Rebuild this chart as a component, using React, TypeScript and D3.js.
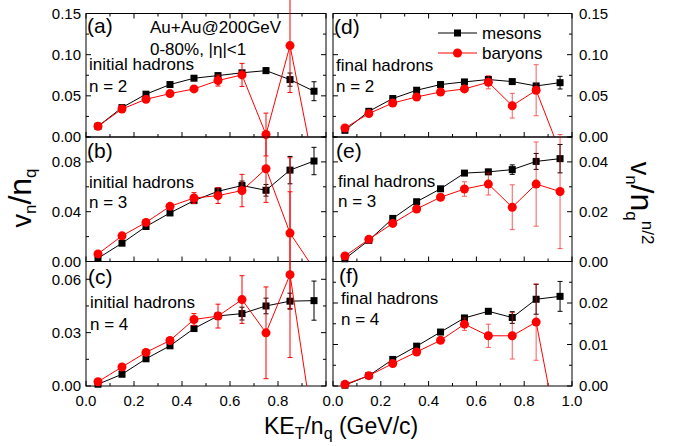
import React from "react";
import * as d3 from "d3";

// Kinetic energy per constituent quark, KE_T/n_q (GeV/c)
const keT = [0.05, 0.15, 0.25, 0.35, 0.45, 0.55, 0.65, 0.75, 0.85, 0.95];

// (a) initial hadrons, n = 2
const mesonsInitN2 = [0.013, 0.0357, 0.052, 0.0637, 0.0714, 0.0746, 0.078, 0.0806, 0.0697, 0.0556];
const mesonsInitN2Err = [0, 0, 0, 0, 0, 0.001, 0.002, 0.0034, 0.008, 0.0115];
const baryonsInitN2 = [0.013, 0.034, 0.0458, 0.0527, 0.0584, 0.0686, 0.0754, 0.003, 0.111, -0.037];
const baryonsInitN2Err = [0, 0, 0, 0, 0, 0.0067, 0.014, 0.026, 0.057, 0];

// (b) initial hadrons, n = 3
const mesonsInitN3 = [0.0026, 0.0147, 0.0281, 0.039, 0.0489, 0.0564, 0.061, 0.0572, 0.0734, 0.0807];
const mesonsInitN3Err = [0, 0, 0, 0, 0.001, 0.0027, 0.0036, 0.0047, 0.011, 0.011];
const baryonsInitN3 = [0.0061, 0.0206, 0.0314, 0.0443, 0.051, 0.0529, 0.057, 0.0745, 0.0228, -0.006];
const baryonsInitN3Err = [0, 0, 0, 0, 0.0043, 0.0063, 0.013, 0.027, 0.0605, 0];

// (c) initial hadrons, n = 4
const mesonsInitN4 = [0.001, 0.0066, 0.0153, 0.0226, 0.0323, 0.0394, 0.0407, 0.045, 0.0477, 0.048];
const mesonsInitN4Err = [0, 0, 0, 0, 0, 0.001, 0.0036, 0.0044, 0.0045, 0.011];
const baryonsInitN4 = [0.0024, 0.0107, 0.0189, 0.0256, 0.0374, 0.0393, 0.0486, 0.0299, 0.0626, -0.027];
const baryonsInitN4Err = [0, 0, 0, 0, 0.0033, 0.0067, 0.0134, 0.0258, 0.0466, 0];

// (d) final hadrons, n = 2
const mesonsFinalN2 = [0.0081, 0.0312, 0.0467, 0.0568, 0.0637, 0.0669, 0.0698, 0.0673, 0.062, 0.066];
const mesonsFinalN2Err = [0, 0, 0, 0, 0, 0, 0.002, 0.002, 0.003, 0.0077];
const baryonsFinalN2 = [0.011, 0.0284, 0.0413, 0.0486, 0.0547, 0.0584, 0.0665, 0.038, 0.0568, -0.018];
const baryonsFinalN2Err = [0, 0, 0, 0, 0, 0, 0.008, 0.015, 0.031, 0];

// (e) final hadrons, n = 3
const mesonsFinalN3 = [0.0011, 0.0085, 0.0173, 0.024, 0.0292, 0.0355, 0.036, 0.0369, 0.0402, 0.0413];
const mesonsFinalN3Err = [0, 0, 0, 0, 0, 0, 0.001, 0.0019, 0.0032, 0.0057];
const baryonsFinalN3 = [0.0022, 0.0089, 0.0153, 0.0211, 0.0258, 0.0291, 0.0311, 0.0218, 0.0311, 0.0281];
const baryonsFinalN3Err = [0, 0, 0, 0, 0, 0.0029, 0.0044, 0.009, 0.0169, 0.0229];

// (f) final hadrons, n = 4
const mesonsFinalN4 = [0.0002, 0.0025, 0.0064, 0.0096, 0.013, 0.0164, 0.018, 0.0165, 0.0209, 0.0216];
const mesonsFinalN4Err = [0, 0, 0, 0, 0, 0, 0.0006, 0.0014, 0.0036, 0.0036];
const baryonsFinalN4 = [0.0004, 0.0025, 0.0054, 0.0082, 0.011, 0.0149, 0.0121, 0.0121, 0.0154, -0.0146];
const baryonsFinalN4Err = [0, 0, 0, 0, 0, 0.0015, 0.0028, 0.0056, 0.0092, 0];

// Axis ticks
const xMajorTicks = [0, 0.2, 0.4, 0.6, 0.8, 1.0];
const xMinorTicks = [0.1, 0.3, 0.5, 0.7, 0.9];
const xTickLabelsLeft = ["0.0", "0.2", "0.4", "0.6", "0.8"];
const xTickLabelsRight = ["0.0", "0.2", "0.4", "0.6", "0.8", "1.0"];

const FONT = "'Liberation Sans', Arial, Helvetica, sans-serif";
const RED = "#ff0000";

const colRange: [number, number][] = [
  [86, 326],
  [333, 572],
];
const rowRange: [number, number][] = [
  [13.5, 137],
  [137, 261.5],
  [261.5, 386],
];

type PanelSpec = {
  id: string;
  col: number;
  row: number;
  yMax: number;
  major: number;
  minor: number;
  mesons: number[];
  mesonsErr: number[];
  baryons: number[];
  baryonsErr: number[];
  label: string;
  kind: string;
  n: number;
  textX: number;
  labelY: number;
  kindY: number;
  nY: number;
};

const panels: PanelSpec[] = [
  { id: "a", col: 0, row: 0, yMax: 0.15, major: 0.05, minor: 0.025, mesons: mesonsInitN2, mesonsErr: mesonsInitN2Err, baryons: baryonsInitN2, baryonsErr: baryonsInitN2Err, label: "(a)", kind: "initial hadrons", n: 2, textX: 89, labelY: 33, kindY: 70, nY: 92 },
  { id: "b", col: 0, row: 1, yMax: 0.1, major: 0.04, minor: 0.02, mesons: mesonsInitN3, mesonsErr: mesonsInitN3Err, baryons: baryonsInitN3, baryonsErr: baryonsInitN3Err, label: "(b)", kind: "initial hadrons", n: 3, textX: 89, labelY: 158, kindY: 188, nY: 208 },
  { id: "c", col: 0, row: 2, yMax: 0.07, major: 0.03, minor: 0.015, mesons: mesonsInitN4, mesonsErr: mesonsInitN4Err, baryons: baryonsInitN4, baryonsErr: baryonsInitN4Err, label: "(c)", kind: "initial hadrons", n: 4, textX: 90, labelY: 284, kindY: 308, nY: 330 },
  { id: "d", col: 1, row: 0, yMax: 0.15, major: 0.05, minor: 0.025, mesons: mesonsFinalN2, mesonsErr: mesonsFinalN2Err, baryons: baryonsFinalN2, baryonsErr: baryonsFinalN2Err, label: "(d)", kind: "final hadrons", n: 2, textX: 336, labelY: 34, kindY: 71, nY: 92 },
  { id: "e", col: 1, row: 1, yMax: 0.05, major: 0.02, minor: 0.01, mesons: mesonsFinalN3, mesonsErr: mesonsFinalN3Err, baryons: baryonsFinalN3, baryonsErr: baryonsFinalN3Err, label: "(e)", kind: "final hadrons", n: 3, textX: 338, labelY: 158, kindY: 187, nY: 207 },
  { id: "f", col: 1, row: 2, yMax: 0.03, major: 0.01, minor: 0.005, mesons: mesonsFinalN4, mesonsErr: mesonsFinalN4Err, baryons: baryonsFinalN4, baryonsErr: baryonsFinalN4Err, label: "(f)", kind: "final hadrons", n: 4, textX: 341, labelY: 283, kindY: 304, nY: 325 },
];

function Series({
  values,
  errors,
  color,
  shape,
  x,
  y,
  clipId,
  yMax,
  errOpacity,
}: {
  values: number[];
  errors: number[];
  color: string;
  shape: "square" | "circle";
  x: d3.ScaleLinear<number, number>;
  y: d3.ScaleLinear<number, number>;
  clipId: string;
  yMax: number;
  errOpacity: number;
}) {
  const pts: [number, number][] = keT.map((k, i) => [k, values[i]]);
  const line = d3
    .line<[number, number]>()
    .x((d) => x(d[0]))
    .y((d) => y(d[1]));
  const visible = (v: number) => v >= 0 && v <= yMax;
  return (
    <g>
      <path d={line(pts) || ""} fill="none" stroke={color} strokeWidth={1} clipPath={`url(#${clipId})`} />
      {pts.map(([k, v], i) =>
        visible(v) && errors[i] > 0 ? (
          <g key={`e${i}`} stroke={color} strokeWidth={1} opacity={errOpacity}>
            <line x1={x(k)} x2={x(k)} y1={y(v - errors[i])} y2={y(v + errors[i])} />
            <line x1={x(k) - 2.5} x2={x(k) + 2.5} y1={y(v - errors[i])} y2={y(v - errors[i])} />
            <line x1={x(k) - 2.5} x2={x(k) + 2.5} y1={y(v + errors[i])} y2={y(v + errors[i])} />
          </g>
        ) : null
      )}
      {pts.map(([k, v], i) =>
        visible(v) ? (
          shape === "square" ? (
            <rect key={`m${i}`} x={x(k) - 3.5} y={y(v) - 3.5} width={7} height={7} fill={color} />
          ) : (
            <circle key={`m${i}`} cx={x(k)} cy={y(v)} r={4.5} fill={color} />
          )
        ) : null
      )}
    </g>
  );
}

function Panel({ p }: { p: PanelSpec }) {
  const [x0, x1] = colRange[p.col];
  const [yt, yb] = rowRange[p.row];
  const x = d3.scaleLinear().domain([0, 1]).range([x0, x1]);
  const y = d3.scaleLinear().domain([0, p.yMax]).range([yb, yt]);
  const yMajor = d3.range(0, p.yMax + 1e-9, p.major);
  const yMinor = d3.range(0, p.yMax + 1e-9, p.minor).filter(
    (v) => !yMajor.some((m) => Math.abs(m - v) < 1e-9)
  );
  // the top value of a lower panel sits on the shared edge, so only the top row labels it
  const yLabelled = yMajor.filter((v) => p.row === 0 || v < p.yMax - 1e-9);
  const fmt = d3.format(".2f");
  const clipId = `clip-${p.id}`;
  const isRight = p.col === 1;
  const isBottom = p.row === 2;
  const xLabels = isRight ? xTickLabelsRight : xTickLabelsLeft;
  const majorLen = 5;
  const minorLen = 3;

  return (
    <g>
      <defs>
        <clipPath id={clipId}>
          <rect x={x0} y={yt} width={x1 - x0} height={yb - yt} />
        </clipPath>
      </defs>

      {/* y ticks on both sides, pointing inward */}
      <g stroke="#000" strokeWidth={1}>
        {yMajor.map((v) => (
          <g key={`yM${v}`}>
            <line x1={x0} x2={x0 + majorLen} y1={y(v)} y2={y(v)} />
            <line x1={x1} x2={x1 - majorLen} y1={y(v)} y2={y(v)} />
          </g>
        ))}
        {yMinor.map((v) => (
          <g key={`ym${v}`}>
            <line x1={x0} x2={x0 + minorLen} y1={y(v)} y2={y(v)} />
            <line x1={x1} x2={x1 - minorLen} y1={y(v)} y2={y(v)} />
          </g>
        ))}
        {/* x ticks on the bottom edge, and on the top edge of the upper row */}
        {xMajorTicks.map((v) => (
          <g key={`xM${v}`}>
            <line x1={x(v)} x2={x(v)} y1={yb} y2={yb - majorLen} />
            {p.row === 0 ? <line x1={x(v)} x2={x(v)} y1={yt} y2={yt + majorLen} /> : null}
          </g>
        ))}
        {xMinorTicks.map((v) => (
          <g key={`xm${v}`}>
            <line x1={x(v)} x2={x(v)} y1={yb} y2={yb - minorLen} />
            {p.row === 0 ? <line x1={x(v)} x2={x(v)} y1={yt} y2={yt + minorLen} /> : null}
          </g>
        ))}
      </g>

      {/* y tick labels: left column on the left, right column on the right */}
      <g fontFamily={FONT} fontSize={15} fill="#000">
        {yLabelled.map((v) => (
          <text
            key={`yl${v}`}
            x={isRight ? x1 + 7 : x0 - 5}
            y={y(v)}
            dy="0.35em"
            textAnchor={isRight ? "start" : "end"}
          >
            {fmt(v)}
          </text>
        ))}
        {isBottom
          ? xLabels.map((t, i) => (
              <text key={`xl${t}`} x={x(xMajorTicks[i])} y={yb + 20} textAnchor="middle">
                {t}
              </text>
            ))
          : null}
      </g>

      <rect x={x0} y={yt} width={x1 - x0} height={yb - yt} fill="none" stroke="#000" strokeWidth={1} />

      <Series values={p.mesons} errors={p.mesonsErr} color="#000" shape="square" x={x} y={y} clipId={clipId} yMax={p.yMax} errOpacity={1} />
      <Series values={p.baryons} errors={p.baryonsErr} color={RED} shape="circle" x={x} y={y} clipId={clipId} yMax={p.yMax} errOpacity={isRight ? 0.65 : 1} />

      <g fontFamily={FONT} fill="#000">
        <text x={p.textX - 2} y={p.labelY} fontSize={21}>
          {p.label}
        </text>
        <text x={p.textX} y={p.kindY} fontSize={17}>
          {p.kind}
        </text>
        <text x={p.textX} y={p.nY} fontSize={17}>
          {`n = ${p.n}`}
        </text>
      </g>
    </g>
  );
}

export default function App() {
  return (
    <svg
      width={686}
      height={446}
      style={{ position: "absolute", left: 0, top: 0, background: "#fff" }}
      fontFamily={FONT}
    >
      {panels.map((p) => (
        <Panel key={p.id} p={p} />
      ))}

      {/* collision system annotation */}
      <text x={150} y={33} fontSize={17}>
        Au+Au@200GeV
      </text>
      <text x={150} y={55} fontSize={17}>
        0-80%, |η|&lt;1
      </text>

      {/* legend */}
      <g>
        <line x1={438} x2={477} y1={33} y2={33} stroke="#000" strokeWidth={1} />
        <rect x={457.5 - 3.5} y={33 - 3.5} width={7} height={7} fill="#000" />
        <text x={482} y={39} fontSize={17}>
          mesons
        </text>
        <line x1={438} x2={477} y1={53} y2={53} stroke={RED} strokeWidth={1} />
        <circle cx={457.5} cy={53} r={4.5} fill={RED} />
        <text x={482} y={59} fontSize={17}>
          baryons
        </text>
      </g>

      {/* x axis title */}
      <text x={264} y={434} fontSize={23}>
        KE
        <tspan fontSize={16} dy={5}>
          T
        </tspan>
        <tspan dy={-5}>/n</tspan>
        <tspan fontSize={16} dy={5}>
          q
        </tspan>
        <tspan dy={-5}> (GeV/c)</tspan>
      </text>

      {/* left y axis title */}
      <text transform="translate(31,198) rotate(-90)" textAnchor="middle" fontSize={27}>
        v
        <tspan fontSize={17} dy={5}>
          n
        </tspan>
        <tspan dy={-5} fontSize={32}>
          /n
        </tspan>
        <tspan fontSize={17} dy={5}>
          q
        </tspan>
      </text>

      {/* right y axis title */}
      <text transform="translate(631,203) rotate(90)" textAnchor="middle" fontSize={27}>
        v
        <tspan fontSize={17} dy={5}>
          n
        </tspan>
        <tspan dy={-5} fontSize={32}>
          /n
        </tspan>
        <tspan fontSize={17} dy={5}>
          q
        </tspan>
        <tspan fontSize={17} dy={-16}>
          n/2
        </tspan>
      </text>
    </svg>
  );
}
